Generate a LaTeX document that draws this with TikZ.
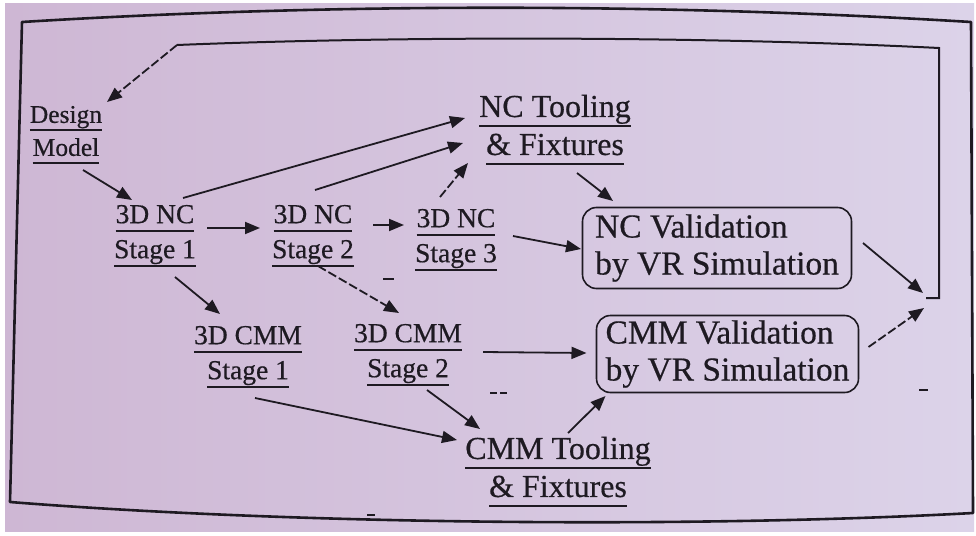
\documentclass[tikz,border=0pt]{standalone}
\usepackage{fontspec}
\setmainfont{Liberation Serif}[FakeBold=0.6]
\newfontfamily\inkfont{Liberation Serif}[FakeBold=0.5]
\usetikzlibrary{arrows.meta,calc}
\definecolor{inkc}{RGB}{30,26,34}
\definecolor{paperl}{RGB}{206,183,212}
\definecolor{paperr}{RGB}{220,211,233}
\newsavebox\ulbox
\newcommand\ulx[1]{\sbox\ulbox{#1}\rlap{\usebox\ulbox}\rule[-0.32em]{\wd\ulbox}{2pt}}
\tikzset{
  lbl/.style={inner sep=0pt, align=center, text=inkc},
  dsgn/.style={lbl, font=\inkfont\fontsize{25.5}{33}\selectfont},
  stg/.style={lbl, font=\inkfont\fontsize{27.5}{35}\selectfont},
  tool/.style={lbl, font=\inkfont\fontsize{32}{38}\selectfont},
  valbox/.style={draw=inkc, line width=1.6pt, rounded corners=14pt, inner sep=0pt,
    align=left, text=inkc, font=\inkfont\fontsize{33.5}{37}\selectfont},
  arr/.style={draw=inkc, line width=1.8pt, -{Triangle[length=15pt,width=12pt]}},
  dsh/.style={arr, dash pattern=on 9pt off 3pt},
  frame/.style={draw=inkc, line width=2.6pt, line join=round},
  fb/.style={draw=inkc, line width=2pt, line join=miter},
  speck/.style={draw=inkc, line width=1.8pt},
}
\begin{document}
\begin{tikzpicture}[x=1pt,y=-1pt]
\useasboundingbox (0,0) rectangle (976,535);
\fill[white] (0,0) rectangle (976,535);
\shade[left color=paperl, right color=paperr] (5,4) rectangle (974,531);

% outer frame
\draw[frame] (22,22) .. controls (330,3) and (660,3) .. (971,22) -- (973,513)
  .. controls (700,528) and (300,525) .. (10,502) -- cycle;

% nodes
\node[dsgn] (design) at (66,135) {\ulx{Design}\\\ulx{Model}};
\node[stg] (nc1) at (155,236) {\ulx{3D NC}\\\ulx{Stage 1}};
\node[stg] (nc2) at (313,236) {\ulx{3D NC}\\\ulx{Stage 2}};
\node[stg] (nc3) at (456,240) {\ulx{3D NC}\\\ulx{Stage 3}};
\node[tool] (nctool) at (555,130) {\ulx{NC Tooling}\\\ulx{\& Fixtures}};
\node[valbox, minimum width=269pt, minimum height=81pt] (ncval) at (717,248)
  {NC Validation\\by VR Simulation};
\node[stg] (cmm1) at (248,357) {\ulx{3D CMM}\\\ulx{Stage 1}};
\node[stg] (cmm2) at (408,355) {\ulx{3D CMM}\\\ulx{Stage 2}};
\node[tool] (cmmtool) at (558,472) {\ulx{CMM Tooling}\\\ulx{\& Fixtures}};
\node[valbox, minimum width=262pt, minimum height=77pt] (cmmval) at (727.5,354)
  {CMM Validation\\by VR Simulation};

\coordinate (merge) at (926,298);
\coordinate (fbr) at (939,48);
\coordinate (fbl) at (177,45);

% connectors
\draw[arr] ($(design)+(17,35)$) -- ($(nc1)+(-23,-36)$);
\draw[arr] ($(nc1)+(28,-38)$) -- ($(nctool)+(-90,-12)$);
\draw[arr] ($(nc2)+(2,-46)$) -- ($(nctool)+(-92,13)$);
\draw[dsh] ($(nc3)+(-16,-43)$) -- ($(nctool)+(-87,33)$);
\draw[arr] ($(nc1)+(52,-8)$) -- ($(nc2)+(-53,-8)$);
\draw[arr] ($(nc2)+(60,-11)$) -- ($(nc3)+(-52,-15)$);
\draw[arr] ($(nc3)+(57,-4)$) -- ($(ncval)+(-136,1)$);
\draw[arr] ($(nctool)+(22,43)$) -- ($(ncval)+(-104,-47)$);
\draw[arr] ($(nc1)+(20,41)$) -- ($(cmm1)+(-28,-43)$);
\draw[dsh] ($(nc2)+(5,30)$) -- ($(cmm2)+(-9,-42)$);
\draw[arr] ($(cmm2)+(75,-3)$) -- ($(cmmval)+(-141,-1)$);
\draw[arr] ($(cmm1)+(7,41)$) -- ($(cmmtool)+(-101,-32)$);
\draw[arr] ($(cmm2)+(19,35)$) -- ($(cmmtool)+(-78,-43)$);
\draw[arr] ($(cmmtool)+(10,-39)$) -- ($(cmmval)+(-122,42)$);
\draw[arr] ($(ncval)+(146,-5)$) -- ($(merge)+(-3,-5)$);
\draw[dsh] ($(cmmval)+(141,-7)$) -- ($(merge)+(-2,10)$);

% feedback loop
\draw[fb] (merge) -- (merge -| fbr) -- (fbr) .. controls (700,36) and (400,36) .. (fbl);
\draw[dsh] (fbl) -- ($(design)+(41,-33)$);

% print specks
\draw[speck] (383,279) -- (394,279);
\draw[speck] (490,393) -- (497,393) (500,393) -- (507,393);
\draw[speck] (367,515) -- (375,515);
\draw[speck] (919,390) -- (928,390);
\end{tikzpicture}
\end{document}
